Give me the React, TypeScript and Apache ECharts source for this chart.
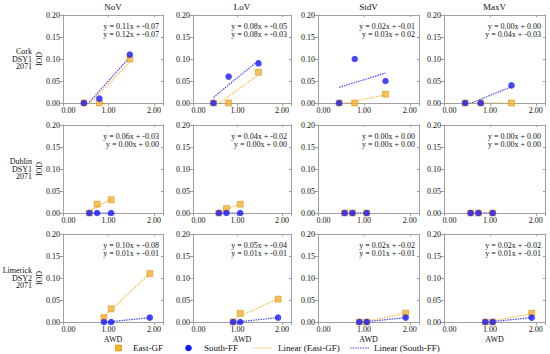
import React, { useEffect, useRef } from "react";
import * as echarts from "echarts";

// ---- data ----
const measures = ["NoV", "LoV", "StdV", "MaxV"];
const rowNames = [
  ["Cork", "DSY1", "2071"],
  ["Dublin", "DSY1", "2071"],
  ["Limerick", "DSY2", "2071"],
];
// AWD values (x) per row
const awdRow0 = [0.46, 0.8, 1.47];
const awdRow1 = [0.58, 0.75, 1.06];
const awdRow2 = [0.9, 1.06, 1.91];
const awd = [awdRow0, awdRow1, awdRow2];

// IOD values (y), East-GF, per row then per measure
const eastRow0 = [[0, 0, 0.1], [0, 0, 0.07], [0, 0, 0.02], [0, 0, 0]];
const eastRow1 = [[0, 0.02, 0.03], [0, 0.01, 0.02], [0, 0, 0], [0, 0, 0]];
const eastRow2 = [[0.01, 0.03, 0.11], [0, 0.02, 0.052], [0, 0, 0.02], [0, 0, 0.02]];
const eastGF = [eastRow0, eastRow1, eastRow2];

// IOD values (y), South-FF
const southRow0 = [[0, 0.01, 0.11], [0, 0.06, 0.09], [0, 0.1, 0.05], [0, 0, 0.04]];
const southRow1 = [[0, 0, 0], [0, 0, 0], [0, 0, 0], [0, 0, 0]];
const southRow2 = [[0, 0, 0.01], [0, 0, 0.01], [0, 0, 0.01], [0, 0, 0.01]];
const southFF = [southRow0, southRow1, southRow2];

// trendline equations as printed
const eqEast = [
  ["y = 0.11x + -0.07", "y = 0.08x + -0.05", "y = 0.02x + -0.01", "y = 0.00x + 0.00"],
  ["y = 0.06x + -0.03", "y = 0.04x + -0.02", "y = 0.00x + 0.00", "y = 0.00x + 0.00"],
  ["y = 0.10x + -0.08", "y = 0.05x + -0.04", "y = 0.02x + -0.02", "y = 0.02x + -0.02"],
];
const eqSouth = [
  ["y = 0.12x + -0.07", "y = 0.08x + -0.03", "y = 0.03x + 0.02", "y = 0.04x + -0.03"],
  ["y = 0.00x + 0.00", "y = 0.00x + 0.00", "y = 0.00x + 0.00", "y = 0.00x + 0.00"],
  ["y = 0.01x + -0.01", "y = 0.01x + -0.01", "y = 0.01x + -0.01", "y = 0.01x + -0.01"],
];

const xMin = 0, xMax = 2.2, xStep = 1;
const yMin = 0, yMax = 0.2, yStep = 0.05;

// ---- layout / style ----
const colLeft = [63, 193, 318, 444];
const colWidth = [100, 98, 101, 101];
const rowTop = [15, 125, 234];
const rowHeight = 88;
const FONT = "'Liberation Serif', 'Times New Roman', serif";
const ORANGE = "#F7B02A";
const ORANGE_EDGE = "#C98A10";
const BLUE = "#1616FF";
const ORANGE_LINE = "#F9BE4A";
const BLUE_LINE = "#4A4AFF";
const AXIS = "#A0A0A0";

function fit(xs: number[], ys: number[]) {
  const n = xs.length;
  const mx = xs.reduce((a, b) => a + b, 0) / n;
  const my = ys.reduce((a, b) => a + b, 0) / n;
  let sxx = 0, sxy = 0;
  for (let i = 0; i < n; i++) {
    sxx += (xs[i] - mx) * (xs[i] - mx);
    sxy += (xs[i] - mx) * (ys[i] - my);
  }
  const a = sxx === 0 ? 0 : sxy / sxx;
  const b = my - a * mx;
  const x0 = Math.min(...xs), x1 = Math.max(...xs);
  return [[x0, a * x0 + b], [x1, a * x1 + b]];
}

function buildOption() {
  const grids: any[] = [];
  const xb: any[] = [], xt: any[] = [], yl: any[] = [], yr: any[] = [];
  const series: any[] = [];
  const elements: any[] = [];
  const tickStyle = { color: AXIS, width: 1 };

  for (let r = 0; r < 3; r++) {
    for (let c = 0; c < 4; c++) {
      const i = r * 4 + c;
      grids.push({ left: colLeft[c], top: rowTop[r], width: colWidth[c], height: rowHeight, containLabel: false });
      xb.push({
        type: "value", gridIndex: i, min: xMin, max: xMax, interval: xStep, position: "bottom",
        axisLine: { show: true, onZero: false, lineStyle: tickStyle },
        axisTick: { show: true, inside: false, length: 3, lineStyle: tickStyle },
        splitLine: { show: false },
        axisLabel: {
          fontSize: 8, fontFamily: FONT, color: "#111", margin: 3,
          formatter: (v: number) => Math.abs(v - Math.round(v)) > 1e-6 ? "" : (v === 0 ? "{s|0.00}" : v.toFixed(2)),
          rich: { s: { padding: [0, 0, 0, 11], fontSize: 8, fontFamily: FONT, color: "#111" } },
        },
      });
      xt.push({
        type: "value", gridIndex: i, min: xMin, max: xMax, interval: xStep, position: "top",
        axisLine: { show: true, onZero: false, lineStyle: tickStyle },
        axisTick: { show: true, inside: true, length: 2, lineStyle: tickStyle },
        splitLine: { show: false }, axisLabel: { show: false },
      });
      yl.push({
        type: "value", gridIndex: i, min: yMin, max: yMax, interval: yStep, position: "left",
        axisLine: { show: true, onZero: false, lineStyle: tickStyle },
        axisTick: { show: true, inside: false, length: 3, lineStyle: tickStyle },
        splitLine: { show: false },
        axisLabel: { fontSize: 8, fontFamily: FONT, color: "#111", margin: 3, formatter: (v: number) => v.toFixed(2) },
      });
      yr.push({
        type: "value", gridIndex: i, min: yMin, max: yMax, interval: yStep, position: "right",
        axisLine: { show: true, onZero: false, lineStyle: tickStyle },
        axisTick: { show: true, inside: true, length: 2, lineStyle: tickStyle },
        splitLine: { show: false }, axisLabel: { show: false },
      });

      const xs = awd[r];
      const ye = eastGF[r][c];
      const ys = southFF[r][c];
      series.push({
        type: "line", name: "Linear (East-GF)", xAxisIndex: i, yAxisIndex: i, data: fit(xs, ye),
        symbol: "none", clip: true, lineStyle: { color: ORANGE_LINE, width: 1.2, type: [1.5, 1] }, z: 3,
      });
      series.push({
        type: "line", name: "Linear (South-FF)", xAxisIndex: i, yAxisIndex: i, data: fit(xs, ys),
        symbol: "none", clip: true, lineStyle: { color: BLUE_LINE, width: 1.2, type: [1.5, 1] }, z: 3,
      });
      series.push({
        type: "scatter", name: "East-GF", xAxisIndex: i, yAxisIndex: i,
        data: xs.map((x, k) => [x, ye[k]]), symbol: "rect", symbolSize: 6, clip: false,
        itemStyle: { color: ORANGE, borderColor: ORANGE_EDGE, borderWidth: 0.6 }, z: 4,
      });
      series.push({
        type: "scatter", name: "South-FF", xAxisIndex: i, yAxisIndex: i,
        data: xs.map((x, k) => [x, ys[k]]), symbol: "circle", symbolSize: 6.5, clip: false,
        itemStyle: { color: BLUE }, z: 5,
      });

      const right = colLeft[c] + colWidth[c] - 4;
      elements.push({ type: "text", x: right, y: rowTop[r] + 11, style: { text: eqEast[r][c], align: "right", verticalAlign: "middle", font: `8px ${FONT}`, fill: "#111" } });
      elements.push({ type: "text", x: right, y: rowTop[r] + 19.5, style: { text: eqSouth[r][c], align: "right", verticalAlign: "middle", font: `8px ${FONT}`, fill: "#111" } });
    }
  }

  // column titles
  for (let c = 0; c < 4; c++) {
    elements.push({ type: "text", x: colLeft[c] + colWidth[c] / 2, y: 7, style: { text: measures[c], align: "center", verticalAlign: "middle", font: `9px ${FONT}`, fill: "#111" } });
    elements.push({ type: "text", x: colLeft[c] + colWidth[c] / 2, y: 339, style: { text: "AWD", align: "center", verticalAlign: "middle", font: `8px ${FONT}`, fill: "#111" } });
  }
  // row labels
  for (let r = 0; r < 3; r++) {
    const cy = rowTop[r] + rowHeight / 2;
    rowNames[r].forEach((t, k) => {
      elements.push({ type: "text", x: 32, y: cy + (k - 1) * 7.5, style: { text: t, align: "right", verticalAlign: "middle", font: `8px ${FONT}`, fill: "#111" } });
    });
    elements.push({ type: "text", x: 39.5, y: cy, rotation: Math.PI / 2, style: { text: "IOD", align: "center", verticalAlign: "middle", font: `8px ${FONT}`, fill: "#111" } });
  }
  // legend
  const ly = 348;
  const lf = `9px ${FONT}`;
  elements.push({ type: "rect", shape: { x: 115.5, y: ly - 3, width: 6, height: 6 }, style: { fill: ORANGE, stroke: ORANGE_EDGE, lineWidth: 0.6 } });
  elements.push({ type: "text", x: 133, y: ly, style: { text: "East-GF", align: "left", verticalAlign: "middle", font: lf, fill: "#111" } });
  elements.push({ type: "circle", shape: { cx: 188.5, cy: ly, r: 3.3 }, style: { fill: BLUE } });
  elements.push({ type: "text", x: 204, y: ly, style: { text: "South-FF", align: "left", verticalAlign: "middle", font: lf, fill: "#111" } });
  elements.push({ type: "line", shape: { x1: 253, y1: ly, x2: 272, y2: ly }, style: { stroke: ORANGE_LINE, lineWidth: 1.2, lineDash: [1.5, 1] } });
  elements.push({ type: "text", x: 278, y: ly, style: { text: "Linear (East-GF)", align: "left", verticalAlign: "middle", font: lf, fill: "#111" } });
  elements.push({ type: "line", shape: { x1: 350, y1: ly, x2: 369, y2: ly }, style: { stroke: BLUE_LINE, lineWidth: 1.2, lineDash: [1.5, 1] } });
  elements.push({ type: "text", x: 374, y: ly, style: { text: "Linear (South-FF)", align: "left", verticalAlign: "middle", font: lf, fill: "#111" } });

  return {
    animation: false,
    backgroundColor: "#fff",
    textStyle: { fontFamily: FONT },
    grid: grids,
    xAxis: [...xb, ...xt],
    yAxis: [...yl, ...yr],
    series,
    graphic: { elements },
  };
}

export default function App() {
  const ref = useRef<HTMLDivElement>(null);
  useEffect(() => {
    if (!ref.current) return;
    const chart = echarts.init(ref.current, undefined, { renderer: "svg" });
    chart.setOption(buildOption() as any);
    return () => chart.dispose();
  }, []);
  return <div ref={ref} style={{ width: 550, height: 354, position: "absolute", left: 0, top: 0 }} />;
}
